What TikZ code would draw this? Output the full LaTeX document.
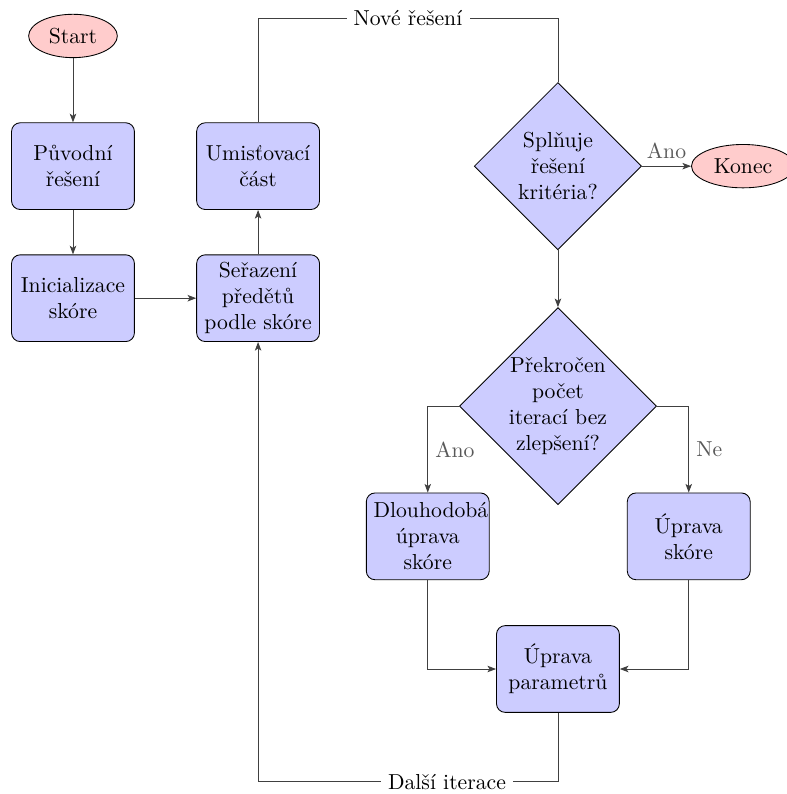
\documentclass[tikz,border=0pt]{standalone}
\usepackage{fontspec}
\usepackage{tikz}
\usetikzlibrary{arrows.meta, positioning, shapes.geometric}

\tikzset{
  block/.style={draw, rectangle, rounded corners, fill=blue!20, text width=5em, align=center, minimum height=4em},
  decision/.style={draw, diamond, aspect=1, fill=blue!20, text width=4.6em, align=center, inner sep=0pt},
  cloud/.style={draw, ellipse, fill=red!20, minimum height=2em},
  line/.style={draw=black!75, -{Stealth[length=4pt, width=3pt, inset=1pt]}},
  plain/.style={draw=black!75},
  answer/.style={text=black!65},
}

\begin{document}
\begin{tikzpicture}[on grid]
    \useasboundingbox (-1.183, 0.583) rectangle (11.572, -12.286);

    \node (start) [cloud] {Start};
    \node (orig) [block, below=2.11 of start] {Původní\\řešení};
    \node (init) [block, below=2.14 of orig] {Inicializace\\skóre};
    \node (sort) [block, right=3.0 of init] {Seřazení\\předětů\\podle skóre};
    \node (place) [block, above=2.14 of sort] {Umisťovací\\část};
    \node (crit) [decision, right=4.86 of place] {Splňuje\\řešení\\kritéria?};
    \node (konec) [cloud, right=3.0 of crit] {Konec};
    \node (stall) [decision, below=3.89 of crit] {Překročen\\počet\\iterací bez\\zlepšení?};
    \node (longterm) [block, below left=2.11 and 2.11 of stall] {Dlouhodobá\\úprava\\skóre};
    \node (score) [block, below right=2.11 and 2.12 of stall] {Úprava\\skóre};
    \node (params) [block, below=4.26 of stall] {Úprava\\parametrů};
    \coordinate[above=2.4 of crit] (toploop);
    \coordinate[below=1.83 of params] (botloop);

    \draw[line] (start) -- (orig);
    \draw[line] (orig) -- (init);
    \draw[line] (init) -- (sort);
    \draw[line] (sort) -- (place);
    \draw[plain] (place) |- node[pos=0.75, fill=white] {Nové řešení} (toploop) -- (crit);
    \draw[line] (crit) -- node[above, answer] {Ano} (konec);
    \draw[line] (crit) -- (stall);
    \draw[line] (stall) -| node[pos=0.75, right, answer] {Ano} (longterm);
    \draw[line] (stall) -| node[pos=0.75, right, answer] {Ne} (score);
    \draw[line] (longterm) |- (params);
    \draw[line] (score) |- (params);
    \draw[line] (params) -- (botloop) -| node[pos=0.185, fill=white] {Další iterace} (sort);
\end{tikzpicture}
\end{document}
